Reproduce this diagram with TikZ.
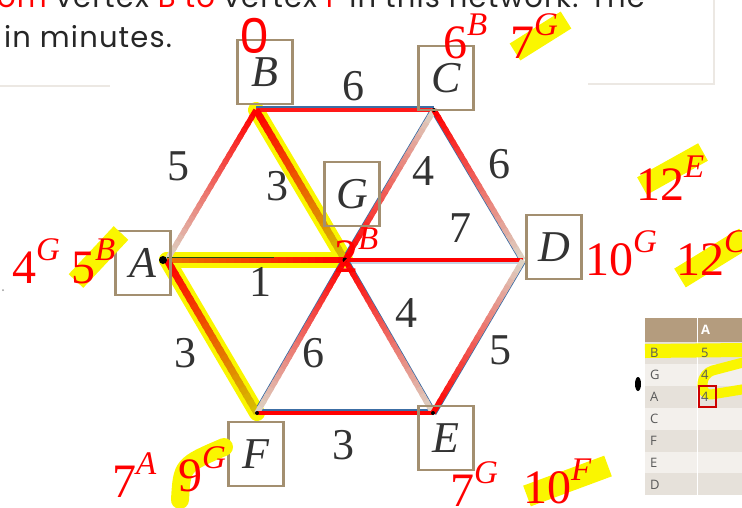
\documentclass[tikz,border=0pt]{standalone}
\usepackage{fontspec}
\setmainfont{Liberation Serif}
\newfontfamily\qfont[LetterSpace=4]{Poppins}
\newfontfamily\zfont{Poppins}
\newfontfamily\tfont{Open Sans}
\usetikzlibrary{calc}

\definecolor{edgebeige}{RGB}{221,210,196}
\definecolor{boxtan}{RGB}{163,143,112}
\definecolor{pathgold}{RGB}{214,190,0}
\definecolor{pathorange}{RGB}{235,120,0}
\definecolor{edgeblue}{RGB}{60,110,165}
\definecolor{hilite}{RGB}{250,246,0}
\definecolor{headtan}{RGB}{180,156,126}
\definecolor{rowdark}{RGB}{230,225,218}
\definecolor{rowlight}{RGB}{243,240,236}
\definecolor{cardgrey}{RGB}{236,232,227}

\newcommand\fadeedge[5][]{%
  \foreach \k in {0,...,23}{
    \pgfmathsetmacro\ka{\k/24}
    \pgfmathsetmacro\kb{min((\k+1.4)/24,1)}
    \pgfmathsetmacro\kc{100-\k*100/23}
    \draw[edge,#1,draw=#4!\kc!#5] ($(#2)!\ka!(#3)$) -- ($(#2)!\kb!(#3)$);
  }}
\newcommand\ann[2]{#1\raisebox{0.47em}{\fontsize{33}{33}\selectfont\itshape #2}}

\begin{document}
\begin{tikzpicture}[x=1pt, y=-1pt,
    edge/.style={line width=5.5pt},
    blueedge/.style={draw=edgeblue, line width=1.2pt},
    hiband/.style={draw=hilite, line width=16pt, line cap=round},
    hlstroke/.style={draw=hilite, line width=20pt},
    vbox/.style={draw=boxtan, line width=2.4pt, minimum width=55pt, minimum height=64pt,
                 inner sep=0pt, font=\fontsize{44}{44}\selectfont\itshape, text=black!80},
    weight/.style={font=\fontsize{44}{44}\selectfont, text=black!80, inner sep=0pt},
    dist/.style={font=\fontsize{48}{48}\selectfont, text=red, inner sep=0pt, anchor=base west},
    qtext/.style={font=\qfont\fontsize{29}{29}\selectfont, text=black!85, inner sep=0pt, anchor=base west},
    cell/.style={font=\tfont\fontsize{13}{13}\selectfont, text=black!65, anchor=west, inner sep=0pt},
    cardline/.style={draw=cardgrey, line width=2pt}
  ]
  \useasboundingbox (0,0) rectangle (742,507);

  \draw[cardline] (-5,86) -- (110,86);
  \draw[cardline] (588,84) -- (714,84) -- (714,-5);
  \node[qtext] (qline) at (-3,7) {\textcolor{red}{om} vertex \textcolor{red}{B to} vertex \textcolor{red}{F} in this network. The};
  \node[qtext] (qend) at (4,47) {in minutes.};

  \coordinate (vA) at (167,260);
  \coordinate (vB) at (256,110);
  \coordinate (vC) at (434,110);
  \coordinate (vG) at (345,260);
  \coordinate (vD) at (523,260);
  \coordinate (vF) at (257,413);
  \coordinate (vE) at (433,413);

  \draw[hiband] (vB) -- (vG);
  \draw[hilite, line width=14pt] (318,212) -- (340,252);
  \draw[hiband] (vA) -- (vG);
  \draw[hiband] (vA) -- (vF);

  \draw[blueedge] ([shift={(0,-3)}]vB) -- ([shift={(0,-3)}]vC);
  \draw[blueedge] ([shift={(-2.6,-1.5)}]vC) -- ([shift={(-2.6,-1.5)}]vG);
  \draw[blueedge] ([shift={(-2.6,1.5)}]vC) -- ([shift={(-2.6,1.5)}]vD);
  \draw[blueedge, draw=edgeblue!30] ([shift={(0,3)}]vG) -- ([shift={(0,3)}]vD);
  \draw[blueedge] ([shift={(-2.6,-1.5)}]vG) -- ([shift={(-2.6,-1.5)}]vF);
  \draw[blueedge] ([shift={(2.6,-1.5)}]vG) -- ([shift={(2.6,-1.5)}]vE);
  \draw[blueedge] ([shift={(2.6,1.5)}]vD) -- ([shift={(2.6,1.5)}]vE);
  \draw[blueedge] ([shift={(0,-3)}]vF) -- ([shift={(0,-3)}]vE);

  \draw[edge, line width=4pt, red!90!white] (vB) -- (vC);
  \fadeedge{vB}{vA}{red}{edgebeige}
  \fadeedge[line width=7pt]{vB}{vG}{red}{pathgold}
  \fadeedge{vC}{vG}{edgebeige}{red}
  \fadeedge{vC}{vD}{red}{edgebeige}
  \draw[edge, line width=4pt, red] (vG) -- (vD);
  \fadeedge[line width=6pt]{vA}{vG}{pathorange}{red}
  \draw[line width=1.6pt, draw={rgb,255:red,30;green,80;blue,20}] ([shift={(0,-2.5)}]vA) -- ($(vA)!0.6!(vG)+(0,-2.5)$);
  \fadeedge[line width=7pt]{vA}{vF}{red}{pathgold}
  \fadeedge{vG}{vF}{red}{edgebeige}
  \fadeedge{vG}{vE}{red}{edgebeige}
  \fadeedge{vD}{vE}{edgebeige}{red}
  \draw[edge, line width=4pt, red] (vF) -- (vE);

  \fill (163,260) circle (4);
  \fill (vG) circle (2.5);
  \fill (vC) circle (2);
  \fill (vF) circle (2);
  \fill (vE) circle (2);

  \node[vbox] (B) at (265,72) {B};
  \node[vbox] (C) at (446,78) {C};
  \node[vbox] (G) at (352,194) {G};
  \node[vbox] (A) at (143,263) {A};
  \node[vbox] (D) at (554,247) {D};
  \node[vbox] (F) at (256,454) {F};
  \node[vbox] (E) at (446,438) {E};

  \node[weight] (wBC) at (353,86) {6};
  \node[weight] (wBA) at (178,166) {5};
  \node[weight] (wBG) at (277,186) {3};
  \node[weight] (wCG) at (423,171) {4};
  \node[weight] (wCD) at (499,164) {6};
  \node[weight] (wGD) at (460,228) {7};
  \node[weight] (wAG) at (260,282) {1};
  \node[weight] (wAF) at (185,353) {3};
  \node[weight] (wGF) at (313,353) {6};
  \node[weight] (wGE) at (406,313) {4};
  \node[weight] (wDE) at (500,350) {5};
  \node[weight] (wFE) at (343,445) {3};

  \draw[hlstroke] (515,52) -- (566,20);
  \draw[hlstroke] (642,186) -- (703,152);
  \draw[hlstroke] (76,281) -- (121,233);
  \draw[hlstroke, line width=22pt] (680,278) -- (745,238);
  \draw[hlstroke, line width=18pt, line cap=round] (180,500) .. controls (182,465) .. (224,447);
  \draw[hlstroke, line width=22pt] (527,496) -- (608,466);

  \node[font=\zfont\fontsize{48}{48}\selectfont, text=red, inner sep=0pt, anchor=base] (dB) at (255,53) {0};
  \node[dist] (dCB) at (443,58) {\ann{6}{B}};
  \node[dist] (dCG) at (510,58) {\ann{7}{G}};
  \node[dist] (dGB) at (334,272) {\ann{2}{B}};
  \node[dist] (dDE) at (636,200) {\ann{12}{E}};
  \node[dist] (dAG) at (12,283) {\ann{4}{G}};
  \node[dist] (dAB) at (71,283) {\ann{5}{B}};
  \node[dist] (dDG) at (585,275) {\ann{10}{G}};
  \node[dist] (dDC) at (676,275) {\ann{12}{C}};
  \node[dist] (dFA) at (112,497) {\ann{7}{A}};
  \node[dist] (dFG) at (178,491) {\ann{9}{G}};
  \node[dist] (dEG) at (450,506) {\ann{7}{G}};
  \node[dist] (dEF) at (523,503) {\ann{10}{F}};

  \fill[headtan] (645,318) rectangle (745,342);
  \foreach \r/\v [count=\i] in {B/5,G/4,A/4,C/,F/,E/,D/}{
    \ifodd\i\def\rc{rowdark}\else\def\rc{rowlight}\fi
    \fill[\rc] (645,{342+(\i-1)*21.9}) rectangle (745,{342+\i*21.9});
  }
  \draw[white, line width=1pt] (697,318) -- (697,496);
  \draw[hilite, line width=14pt] (645,351) -- (745,350);
  \draw[hilite, line width=10pt, line join=round, rounded corners=10pt] (745,362) -- (703,373) -- (702,396) -- (745,389);
  \node[cell, text=white, font=\tfont\bfseries\fontsize{13}{13}\selectfont] (thA) at (701,330) {A};
  \foreach \r/\v [count=\i] in {B/5,G/4,A/4,C/,F/,E/,D/}{
    \node[cell] (row\r) at (650,{353+(\i-1)*21.9}) {\r};
    \node[cell] (val\r) at (701,{353+(\i-1)*21.9}) {\v};
  }
  \draw[red!80!black, line width=1.3pt] (699,386) rectangle (716,407);
  \fill (638,384) ellipse (3 and 7);
  \fill[black!40] (3,290) circle (1);
\end{tikzpicture}
\end{document}
